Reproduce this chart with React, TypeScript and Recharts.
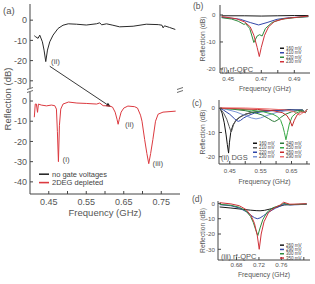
import React from "react"
import { Legend, Line, LineChart, ReferenceLine, XAxis, YAxis } from "recharts"

const FONT = "'Liberation Sans', Arial, Helvetica, sans-serif"
const INK = "#555"
const FRAME = "#444"

type Pt = { f: number; r: number }
const zip = (freq: number[], refl: number[], shift = 0): Pt[] =>
  freq.map((f, i) => ({ f, r: refl[i] + shift }))

// ---------- (a) overview, broken y axis ----------
// upper trace sits 40 dB above the lower one on a single scale
const UPPER_SHIFT = 40

const aFreqTicks = [0.45, 0.5, 0.55, 0.6, 0.65, 0.7, 0.75]
const aFreqLabels = [0.45, 0.55, 0.65, 0.75]
const aUpperTicks = [0, -10, -20, -30]
const aLowerTicks = [0, -10, -20, -30, -40]

const noGateFreq = [
  0.4115, 0.415, 0.4215, 0.426, 0.433, 0.4375, 0.442, 0.4466, 0.4527, 0.4615,
  0.4748, 0.488, 0.502, 0.524, 0.55, 0.577, 0.586, 0.591, 0.604, 0.621, 0.639,
  0.675, 0.71, 0.742, 0.752, 0.755, 0.7587, 0.772, 0.7875,
]
const noGateRefl = [
  -7.7, -8.2, -9, -7.4, -10.7, -14.8, -20.5, -14.8, -10.7, -7.4, -4.1, -2.5,
  -1.8, -2, -2.4, -1.8, -1.3, -2.3, -1.8, -2.5, -3.3, -3, -2, -2.2, -2.5, -3.8,
  -2.8, -3.6, -4.6,
]

const depletedFreq = [
  0.4115, 0.414, 0.417, 0.42, 0.4225, 0.43, 0.444, 0.457, 0.466, 0.4705, 0.473,
  0.4758, 0.4785, 0.482, 0.488, 0.5027, 0.525, 0.55, 0.5775, 0.586, 0.595,
  0.613, 0.62, 0.627, 0.632, 0.635, 0.638, 0.643, 0.65, 0.661, 0.679, 0.6867,
  0.6947, 0.6987, 0.7057, 0.7117, 0.7167, 0.7217, 0.7277, 0.7347, 0.7417,
  0.7547, 0.7885,
]
const depletedRefl = [
  -8, -1.5, -1.5, -5.6, -1.5, -2, -2.4, -2, -2.3, -4, -15, -30, -12, -4, -1.5,
  -0.5, -1, -1.2, -1.5, -1, -2.3, -2.5, -3, -5.5, -9, -11.5, -9, -5.5, -3.5,
  -2.5, -2.8, -3.5, -7, -10, -19, -26, -31, -26, -19, -10, -6.5, -5.5, -5,
]

const arrowFrom = { f: 0.4527, r: -22.8 } // upper trace, near dip (ii)
const arrowTo = { f: 0.616, r: -3 } // lower trace, near dip (ii)

// ---------- (b) rf-QPC (i) ----------
const bFreqTicks = [0.45, 0.46, 0.47, 0.48, 0.49]
const bFreqLabels = [0.45, 0.47, 0.49]
const bReflTicks = [0, -10, -20]

const b160Freq = [0.446, 0.46, 0.47, 0.48, 0.49, 0.4985]
const b160Refl = [-0.3, -0.3, -0.4, -0.3, -0.2, -0.2]
const b210Freq = [0.446, 0.452, 0.4573, 0.4633, 0.4684, 0.4735, 0.4795, 0.487, 0.4985]
const b210Refl = [-0.9, -1.2, -1.6, -2.8, -3.7, -2.8, -1.6, -1, -0.6]
const b220Freq = [
  0.446, 0.452, 0.456, 0.4595, 0.4605, 0.463, 0.4655, 0.4675, 0.469, 0.4705,
  0.4725, 0.4765, 0.482, 0.49, 0.4985,
]
const b220Refl = [
  -1, -1.5, -2.3, -3.5, -3.2, -5, -10.2, -7.8, -7.3, -7.8, -5, -2.8, -1.6, -1,
  -0.6,
]
const b230Freq = [
  0.446, 0.455, 0.46, 0.4633, 0.4655, 0.4675, 0.4688, 0.47, 0.472, 0.4744,
  0.478, 0.4845, 0.4985,
]
const b230Refl = [-0.6, -1.4, -2.6, -4.4, -7.5, -12, -15.4, -12, -7.5, -4.4, -2.4, -1.3, -0.4]

// ---------- (c) DGS (ii) ----------
const cFreqTicks = [0.45, 0.5, 0.55, 0.6, 0.65, 0.7]
const cFreqLabels = [0.45, 0.55, 0.65]
const cReflTicks = [0, -10, -20]

const c160Freq = [
  0.418, 0.425, 0.432, 0.438, 0.442, 0.446, 0.449, 0.453, 0.46, 0.47, 0.485,
  0.5, 0.52, 0.55, 0.6, 0.65, 0.685, 0.694, 0.7,
]
const c160Refl = [
  0, -2, -6, -11, -15, -18.5, -14, -10, -7, -5, -3.5, -2.5, -1.8, -1.2, -0.8,
  -0.6, -0.7, -1.8, -0.6,
]
const c210Freq = [
  0.418, 0.43, 0.44, 0.448, 0.452, 0.455, 0.458, 0.463, 0.47, 0.48, 0.5, 0.52,
  0.55, 0.6, 0.65, 0.685, 0.694, 0.7,
]
const c210Refl = [
  0, -2, -4.5, -7.5, -9, -9.8, -8.5, -6.5, -5, -3.8, -2.5, -1.8, -1.2, -0.8,
  -0.6, -0.7, -1.8, -0.6,
]
const c220Freq = [
  0.418, 0.43, 0.45, 0.465, 0.472, 0.478, 0.485, 0.495, 0.51, 0.53, 0.56, 0.6,
  0.65, 0.685, 0.694, 0.7,
]
const c220Refl = [
  0, -0.8, -2.5, -4.3, -5.1, -5.4, -5, -4, -3, -2, -1.3, -0.9, -0.7, -0.8,
  -1.8, -0.6,
]
const c230Freq = [
  0.418, 0.44, 0.47, 0.5, 0.52, 0.535, 0.55, 0.57, 0.6, 0.63, 0.66, 0.685,
  0.694, 0.7,
]
const c230Refl = [0, -0.5, -1.5, -3, -4, -4.4, -4, -3, -1.8, -1.1, -0.8, -0.8, -1.8, -0.6]
const c240Freq = [
  0.418, 0.46, 0.5, 0.53, 0.555, 0.575, 0.588, 0.595, 0.603, 0.615, 0.63, 0.65,
  0.67, 0.685, 0.694, 0.7,
]
const c240Refl = [
  0, -0.4, -1, -1.8, -2.8, -4.2, -5.2, -5.5, -5, -3.8, -2.5, -1.5, -1, -0.8,
  -1.8, -0.6,
]
const c250Freq = [
  0.418, 0.47, 0.52, 0.56, 0.59, 0.605, 0.615, 0.622, 0.627, 0.632, 0.637,
  0.643, 0.652, 0.665, 0.68, 0.694, 0.7,
]
const c250Refl = [
  0, -0.3, -0.8, -1.5, -2.5, -3.5, -5, -7.5, -10, -13, -10, -6.5, -3.5, -2,
  -1.2, -1.8, -0.6,
]
const c260Freq = [
  0.418, 0.48, 0.54, 0.59, 0.62, 0.635, 0.645, 0.652, 0.659, 0.668, 0.68,
  0.694, 0.7,
]
const c260Refl = [0, -0.2, -0.5, -1, -1.8, -3, -5, -7.4, -5, -2.8, -1.5, -1.8, -0.6]
const c290Freq = [0.418, 0.5, 0.58, 0.63, 0.655, 0.668, 0.675, 0.682, 0.69, 0.695, 0.7]
const c290Refl = [0.2, 0.1, -0.3, -0.7, -1.3, -2.2, -2.8, -2.3, -1.6, -1.5, -0.6]

// ---------- (d) rf-QPC (iii) ----------
const dFreqTicks = [0.68, 0.72, 0.76, 0.8]
const dFreqLabels = [0.68, 0.72, 0.76]
const dReflTicks = [0, -10, -20, -30]

const d260Freq = [
  0.65, 0.67, 0.69, 0.705, 0.715, 0.722, 0.73, 0.745, 0.758, 0.765, 0.775,
  0.79, 0.805,
]
const d260Refl = [-2.3, -3, -3.8, -4.4, -4.7, -4.8, -4.5, -3.2, -1.6, -1, -0.8, -0.6, -0.4]
const d290Freq = [
  0.65, 0.67, 0.685, 0.698, 0.706, 0.712, 0.717, 0.722, 0.728, 0.738, 0.75,
  0.758, 0.762, 0.764, 0.775, 0.79, 0.805,
]
const d290Refl = [
  -0.8, -1.5, -3, -5.5, -7.8, -9.3, -10, -9.5, -8, -5.5, -3, -1.8, -1.2, -0.3,
  -1, -0.8, -0.5,
]
const d300Freq = [
  0.65, 0.67, 0.685, 0.697, 0.705, 0.71, 0.714, 0.718, 0.722, 0.727, 0.735,
  0.745, 0.758, 0.764, 0.775, 0.79, 0.805,
]
const d300Refl = [
  -0.6, -1.2, -2.5, -5, -8.5, -12.5, -17, -21, -16, -10.5, -5.5, -2.8, -1.2, 0,
  -0.8, -0.6, -0.4,
]
const d350Freq = [
  0.65, 0.67, 0.685, 0.697, 0.706, 0.712, 0.717, 0.7205, 0.724, 0.729, 0.737,
  0.747, 0.758, 0.764, 0.775, 0.79, 0.805,
]
const d350Refl = [
  0.5, -0.3, -1.5, -4, -8, -13, -21, -30, -20, -12, -6, -3, -1, 0.8, -0.5,
  -0.4, -0.2,
]

// ---------- shared pieces ----------
type AxisSpec = {
  xDomain: [number, number]
  xTicks: number[]
  xLabels: number[]
  yDomain: [number, number]
  yTicks: number[]
  yFormat?: (v: number) => string
  yWidth: number
  xHeight: number
  font: number
  labelFont: number
  xMargin: number
  yMargin: number
  xLabelOffset: number
  yLabelOffset: number
}

function frameAxes(s: AxisSpec) {
  const tick = { fill: INK, fontSize: s.font }
  const showX = (v: number) => (s.xLabels.includes(v) ? v.toFixed(2) : "")
  return [
    <XAxis
      key="xb"
      dataKey="f"
      type="number"
      domain={s.xDomain}
      allowDataOverflow
      ticks={s.xTicks}
      interval={0}
      tickFormatter={showX}
      tick={tick}
      tickSize={-3}
      tickMargin={s.xMargin}
      height={s.xHeight}
      stroke={FRAME}
      label={{
        value: "Frequency (GHz)",
        position: "insideBottom",
        offset: s.xLabelOffset,
        fill: INK,
        fontSize: s.labelFont,
      }}
    />,
    <XAxis
      key="xt"
      xAxisId="top"
      orientation="top"
      dataKey="f"
      type="number"
      domain={s.xDomain}
      allowDataOverflow
      ticks={s.xTicks}
      interval={0}
      tick={false}
      tickSize={-3}
      height={0}
      stroke={FRAME}
    />,
    <YAxis
      key="yl"
      type="number"
      domain={s.yDomain}
      allowDataOverflow
      ticks={s.yTicks}
      interval={0}
      tickFormatter={s.yFormat ?? ((v: number) => String(v))}
      tick={tick}
      tickSize={-3}
      tickMargin={s.yMargin}
      width={s.yWidth}
      stroke={FRAME}
      label={{
        value: "Reflection (dB)",
        angle: -90,
        position: "insideLeft",
        offset: s.yLabelOffset,
        fill: INK,
        fontSize: s.labelFont,
        style: { textAnchor: "middle" },
      }}
    />,
    <YAxis
      key="yr"
      yAxisId="right"
      orientation="right"
      type="number"
      domain={s.yDomain}
      allowDataOverflow
      ticks={s.yTicks}
      interval={0}
      tick={false}
      tickSize={-3}
      width={0}
      stroke={FRAME}
    />,
  ]
}

// invisible series so the top/right frame axes have something bound to them
function bindLine(data: Pt[]) {
  return (
    <Line
      key="bind"
      xAxisId="top"
      yAxisId="right"
      data={data}
      dataKey="r"
      stroke="none"
      dot={false}
      activeDot={false}
      legendType="none"
      isAnimationActive={false}
    />
  )
}

function trace(data: Pt[], name: string, color: string) {
  return (
    <Line
      key={name}
      data={data}
      dataKey="r"
      name={name}
      stroke={color}
      strokeWidth={1}
      dot={false}
      activeDot={false}
      isAnimationActive={false}
    />
  )
}

function SvgLegend({
  payload,
  order,
  columns = 1,
  colWidth,
  rowHeight,
  fontSize,
  swatch,
  gap,
  thick = 1.5,
}: {
  payload?: { value?: string; color?: string; type?: string }[]
  order: string[]
  columns?: number
  colWidth: number
  rowHeight: number
  fontSize: number
  swatch: number
  gap: number
  thick?: number
}) {
  const items = (payload ?? [])
    .filter((p) => p.type !== "none" && p.value)
    .sort((a, b) => order.indexOf(a.value!) - order.indexOf(b.value!))
  const perCol = Math.ceil(items.length / columns)
  return (
    <svg
      width={columns * colWidth}
      height={perCol * rowHeight}
      style={{ display: "block", overflow: "visible" }}
    >
      {items.map((p, i) => {
        const cx = Math.floor(i / perCol) * colWidth
        const cy = (i % perCol) * rowHeight + rowHeight / 2
        return (
          <g key={p.value}>
            <line x1={cx} x2={cx + swatch} y1={cy} y2={cy} stroke={p.color} strokeWidth={thick} />
            <text
              x={cx + swatch + gap}
              y={cy}
              dominantBaseline="central"
              fontSize={fontSize}
              fill="#444"
            >
              {p.value}
            </text>
          </g>
        )
      })}
    </svg>
  )
}

function arrowShape(p: any) {
  const { x1, y1, x2, y2 } = p
  const a = Math.atan2(y2 - y1, x2 - x1)
  const len = 5
  const half = 2
  const bx = x2 - len * Math.cos(a)
  const by = y2 - len * Math.sin(a)
  const pts = `${x2},${y2} ${bx + half * Math.sin(a)},${by - half * Math.cos(a)} ${
    bx - half * Math.sin(a)
  },${by + half * Math.cos(a)}`
  return (
    <g>
      <line x1={x1} y1={y1} x2={bx} y2={by} stroke="#222" strokeWidth={0.9} />
      <polygon points={pts} fill="#222" />
    </g>
  )
}

// ---------- panels ----------
const aNames = ["no gate voltages", "2DEG depleted"]

function PanelA() {
  const noGate = zip(noGateFreq, noGateRefl, UPPER_SHIFT)
  const depleted = zip(depletedFreq, depletedRefl)
  const yTicks = [...aUpperTicks.map((v) => v + UPPER_SHIFT), ...aLowerTicks]
  return (
    <LineChart width={200} height={222} margin={{ top: 4, right: 20, bottom: 0, left: 0 }}>
      {frameAxes({
        xDomain: [0.4, 0.8],
        xTicks: aFreqTicks,
        xLabels: aFreqLabels,
        yDomain: [-46, 48],
        yTicks,
        yFormat: (v) => String(v > 5 ? v - UPPER_SHIFT : v),
        yWidth: 30,
        xHeight: 28,
        font: 9,
        labelFont: 9.5,
        xMargin: 8,
        yMargin: 6,
        xLabelOffset: 6,
        yLabelOffset: 7.5,
      })}
      {bindLine(depleted)}
      <ReferenceLine
        segment={[
          { x: arrowFrom.f, y: arrowFrom.r + UPPER_SHIFT },
          { x: arrowTo.f, y: arrowTo.r },
        ]}
        ifOverflow="visible"
        shape={arrowShape}
      />
      {trace(noGate, aNames[0], "#2a2a2a")}
      {trace(depleted, aNames[1], "#dc3a40")}
      <Legend
        layout="vertical"
        align="center"
        verticalAlign="middle"
        wrapperStyle={{ left: 39, top: 170, width: 80, height: 17 }}
        content={(props: any) => (
          <SvgLegend
            payload={props.payload}
            order={aNames}
            colWidth={80}
            rowHeight={8.4}
            fontSize={7.5}
            swatch={10}
            gap={3}
            thick={1.6}
          />
        )}
      />
    </LineChart>
  )
}

type Series = { name: string; color: string; data: Pt[] }

function SmallPanel({
  height,
  yWidth,
  xHeight,
  xDomain,
  xTicks,
  xLabels,
  yDomain,
  yTicks,
  xMargin,
  yMargin,
  xLabelOffset,
  series,
  legendLeft,
  legendTop,
  legendCols,
  legendRow,
}: {
  height: number
  yWidth: number
  xHeight: number
  xDomain: [number, number]
  xTicks: number[]
  xLabels: number[]
  yDomain: [number, number]
  yTicks: number[]
  xMargin: number
  yMargin: number
  xLabelOffset: number
  series: Series[]
  legendLeft: number
  legendTop: number
  legendCols: number
  legendRow: number
}) {
  const colWidth = 27
  const names = series.map((s) => s.name)
  return (
    <LineChart width={117} height={height} margin={{ top: 5, right: 5, bottom: 0, left: 0 }}>
      {frameAxes({
        xDomain,
        xTicks,
        xLabels,
        yDomain,
        yTicks,
        yWidth,
        xHeight,
        font: 6.2,
        labelFont: 6.8,
        xMargin,
        yMargin,
        xLabelOffset,
        yLabelOffset: 5,
      })}
      {bindLine(series[0].data)}
      {series.map((s) => trace(s.data, s.name, s.color))}
      <Legend
        layout="vertical"
        align="center"
        verticalAlign="middle"
        wrapperStyle={{
          left: legendLeft,
          top: legendTop,
          width: legendCols * colWidth,
          height: (series.length / legendCols) * legendRow,
        }}
        content={(props: any) => (
          <SvgLegend
            payload={props.payload}
            order={names}
            columns={legendCols}
            colWidth={colWidth}
            rowHeight={legendRow}
            fontSize={4.5}
            swatch={4}
            gap={2}
          />
        )}
      />
    </LineChart>
  )
}

const seriesB: Series[] = [
  { name: "160 mV", color: "#1a1a1a", data: zip(b160Freq, b160Refl) },
  { name: "210 mV", color: "#3347a8", data: zip(b210Freq, b210Refl) },
  { name: "220 mV", color: "#2f8a3e", data: zip(b220Freq, b220Refl) },
  { name: "230 mV", color: "#d0323a", data: zip(b230Freq, b230Refl) },
]
const seriesC: Series[] = [
  { name: "160 mV", color: "#111111", data: zip(c160Freq, c160Refl) },
  { name: "210 mV", color: "#5a5a5a", data: zip(c210Freq, c210Refl) },
  { name: "220 mV", color: "#2d45a8", data: zip(c220Freq, c220Refl) },
  { name: "230 mV", color: "#7d96d6", data: zip(c230Freq, c230Refl) },
  { name: "240 mV", color: "#2c7a39", data: zip(c240Freq, c240Refl) },
  { name: "250 mV", color: "#36a845", data: zip(c250Freq, c250Refl) },
  { name: "260 mV", color: "#c42a2a", data: zip(c260Freq, c260Refl) },
  { name: "290 mV", color: "#ee6f6f", data: zip(c290Freq, c290Refl) },
]
const seriesD: Series[] = [
  { name: "260 mV", color: "#1a1a1a", data: zip(d260Freq, d260Refl) },
  { name: "290 mV", color: "#3347a8", data: zip(d290Freq, d290Refl) },
  { name: "300 mV", color: "#2f8a3e", data: zip(d300Freq, d300Refl) },
  { name: "350 mV", color: "#d0323a", data: zip(d350Freq, d350Refl) },
]

function Overlay() {
  const t = (x: number, y: number, s: number, txt: string) => (
    <text key={txt + x + y} x={x} y={y} fontSize={s} fill={INK} dominantBaseline="central">
      {txt}
    </text>
  )
  const brk = (x: number, y: number) => (
    <g key={"b" + x}>
      <rect x={x - 3} y={y - 2} width={6} height={4} fill="#fff" />
      <line x1={x - 3} y1={y - 0.5} x2={x + 3} y2={y - 2.5} stroke={FRAME} strokeWidth={0.8} />
      <line x1={x - 3} y1={y + 2.5} x2={x + 3} y2={y + 0.5} stroke={FRAME} strokeWidth={0.8} />
    </g>
  )
  return (
    <svg
      width={315}
      height={284}
      style={{ position: "absolute", left: 0, top: 0, pointerEvents: "none" }}
    >
      {brk(30, 90)}
      {brk(180, 90)}
      {t(3, 10, 9.5, "(a)")}
      {t(193, 6, 8.5, "(b)")}
      {t(192, 103, 8.5, "(c)")}
      {t(192, 198.5, 8.5, "(d)")}
      {t(51, 61, 8, "(ii)")}
      {t(125, 124, 8, "(ii)")}
      {t(62.5, 159.5, 8, "(i)")}
      {t(152.5, 163, 8, "(iii)")}
      {t(221, 69, 7.5, "(i) rf-QPC")}
      {t(221, 157, 7.5, "(ii) DGS")}
      {t(221, 256.5, 7.5, "(iii) rf-QPC")}
    </svg>
  )
}

export default function App() {
  return (
    <div
      style={{
        position: "absolute",
        left: 0,
        top: 0,
        width: 315,
        height: 284,
        background: "#fff",
        fontFamily: FONT,
        overflow: "hidden",
      }}
    >
      <div style={{ position: "absolute", left: 0, top: 0 }}>
        <PanelA />
      </div>
      <div style={{ position: "absolute", left: 198, top: 0 }}>
        <SmallPanel
          height={95}
          yWidth={22}
          xHeight={22}
          xDomain={[0.445, 0.4995]}
          xTicks={bFreqTicks}
          xLabels={bFreqLabels}
          yDomain={[-21.5, 3.7]}
          yTicks={bReflTicks}
          xMargin={7}
          yMargin={7.5}
          xLabelOffset={4}
          series={seriesB}
          legendLeft={82}
          legendTop={45.5}
          legendCols={1}
          legendRow={4.5}
        />
      </div>
      <div style={{ position: "absolute", left: 198, top: 95 }}>
        <SmallPanel
          height={92}
          yWidth={21}
          xHeight={23}
          xDomain={[0.415, 0.71]}
          xTicks={cFreqTicks}
          xLabels={cFreqLabels}
          yDomain={[-23, 3.4]}
          yTicks={cReflTicks}
          xMargin={8}
          yMargin={7}
          xLabelOffset={3.5}
          series={seriesC}
          legendLeft={55.3}
          legendTop={46.25}
          legendCols={2}
          legendRow={4.5}
        />
      </div>
      <div style={{ position: "absolute", left: 198, top: 196 }}>
        <SmallPanel
          height={88}
          yWidth={20}
          xHeight={24}
          xDomain={[0.647, 0.811]}
          xTicks={dFreqTicks}
          xLabels={dFreqLabels}
          yDomain={[-37, 1.6]}
          yTicks={dReflTicks}
          xMargin={6}
          yMargin={6}
          xLabelOffset={7}
          series={seriesD}
          legendLeft={82}
          legendTop={46.85}
          legendCols={1}
          legendRow={4.3}
        />
      </div>
      <Overlay />
    </div>
  )
}
